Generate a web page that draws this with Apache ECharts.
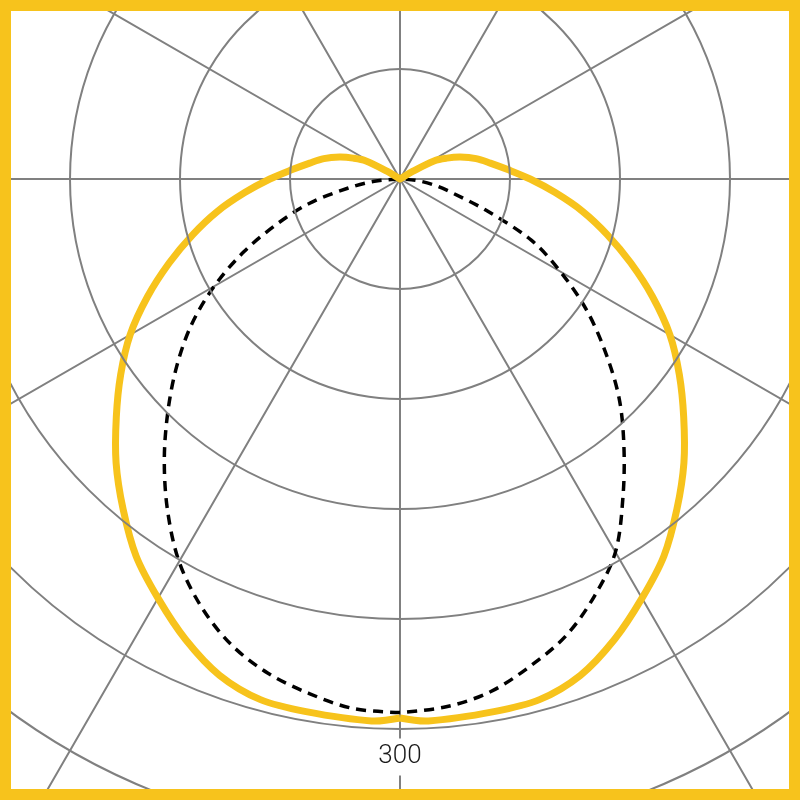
<!DOCTYPE html>
<html>
<head>
<meta charset="utf-8">
<script src="https://cdn.jsdelivr.net/npm/echarts@6/dist/echarts.min.js"></script>
<style>
  html, body { margin: 0; padding: 0; background: #fff; }
  #wrap { position: relative; width: 800px; height: 800px; overflow: hidden; }
  #chart { position: absolute; left: 0; top: 0; width: 800px; height: 800px; }
  #frame { position: absolute; left: 0; top: 0; width: 800px; height: 800px; box-sizing: border-box;
           border: 11px solid #F7C31C; pointer-events: none; }
</style>
</head>
<body>
<div id="wrap"><div id="chart"></div><div id="frame"></div></div>
<script>
// Radius axis ticks (cd) and the one printed label
const radiusTicks = [0, 60, 120, 180, 240, 300, 360, 420];
const shownLabel = 300;

// Dashed curve, angle measured from straight down (degrees)
const dashedAngles = [0, 5, 10, 15, 20, 25, 30, 35, 40, 45, 50, 55, 60, 65, 70, 75, 80, 85, 90];
const dashedLeft  = [291, 290, 285, 279, 270, 257, 241, 221, 200, 179, 159, 139, 117, 94, 71, 51, 29, 14, 0];
const dashedRight = [291, 289, 284, 275, 265, 251, 235, 212, 190, 169, 146, 124, 101, 79, 50, 30, 19, 9, 0];

// Yellow curve
const yellowAngles = [0, 3, 10, 15, 20, 25, 30, 35, 40, 45, 50, 55, 60, 65, 70, 75, 80, 85, 90, 95, 100, 105, 110, 114, 118, 121, 123];
const yellowLeft  = [294, 296, 295, 294, 288, 277, 264, 251, 235, 219, 202, 186, 170, 152, 134, 117, 101, 85, 71, 59, 50, 43, 35, 28, 21, 8, 0];
const yellowRight = [294, 296, 295, 294, 288, 277, 264, 251, 235, 219, 202, 186, 170, 152, 134, 117, 101, 85, 71, 59, 50, 43, 35, 28, 21, 8, 0];

// Build polar [radius, angle] lists: left half goes clockwise from bottom, right half mirrored
function buildCurve(angles, left, right) {
  const out = [];
  for (let i = 0; i < angles.length; i++) out.push([left[i], angles[i]]);
  for (let i = angles.length - 1; i >= 0; i--) out.push([right[i], 360 - angles[i]]);
  return out;
}

const dashedCurve = buildCurve(dashedAngles, dashedLeft, dashedRight);
const yellowCurve = buildCurve(yellowAngles, yellowLeft, yellowRight);

// One smooth path through all points, positioned by the polar coordinate system
function curveSeries(curve, style, z) {
  return {
    type: 'custom', coordinateSystem: 'polar', data: curve, z: z, silent: true,
    renderItem: function (params, api) {
      if (params.dataIndex !== 0) return null;
      const pts = curve.map(function (d) { return api.coord(d); });
      return {
        type: 'polyline',
        shape: { points: pts, smooth: 0.33 },
        style: Object.assign({ fill: null, lineJoin: 'round' }, style)
      };
    }
  };
}

const chart = echarts.init(document.getElementById('chart'), null, { renderer: 'canvas' });
const gridLine = { color: '#808080', width: 2 };

chart.setOption({
  animation: false,
  backgroundColor: '#ffffff',
  polar: { center: [400, 179], radius: 770 },
  angleAxis: {
    type: 'value', min: 0, max: 360, interval: 30,
    startAngle: 270, clockwise: true,
    axisLine: { show: false }, axisTick: { show: false }, axisLabel: { show: false },
    splitLine: { show: true, lineStyle: gridLine }
  },
  radiusAxis: {
    type: 'value', min: radiusTicks[0], max: radiusTicks[radiusTicks.length - 1],
    interval: radiusTicks[1] - radiusTicks[0],
    axisLine: { show: false }, axisTick: { show: false },
    splitLine: { show: true, lineStyle: gridLine },
    z: 5,
    axisLabel: {
      show: true,
      margin: 0,
      align: 'center',
      verticalAlign: 'top',
      padding: [15, 0, 0, 0],
      formatter: function (v) { return v === shownLabel ? '{a|' + v + '}' : ''; },
      rich: {
        a: {
          fontFamily: 'Roboto, "Liberation Sans", Arial, sans-serif',
          fontWeight: 300,
          fontSize: 26, lineHeight: 26,
          color: '#1a1a1a',
          backgroundColor: '#ffffff',
          padding: [5, 3, 6, 3]
        }
      }
    }
  },
  series: [
    curveSeries(dashedCurve, { stroke: '#000000', lineWidth: 3.5, lineDash: [10, 7] }, 3),
    curveSeries(yellowCurve, { stroke: '#F7C31C', lineWidth: 7 }, 4)
  ]
});
</script>
</body>
</html>
